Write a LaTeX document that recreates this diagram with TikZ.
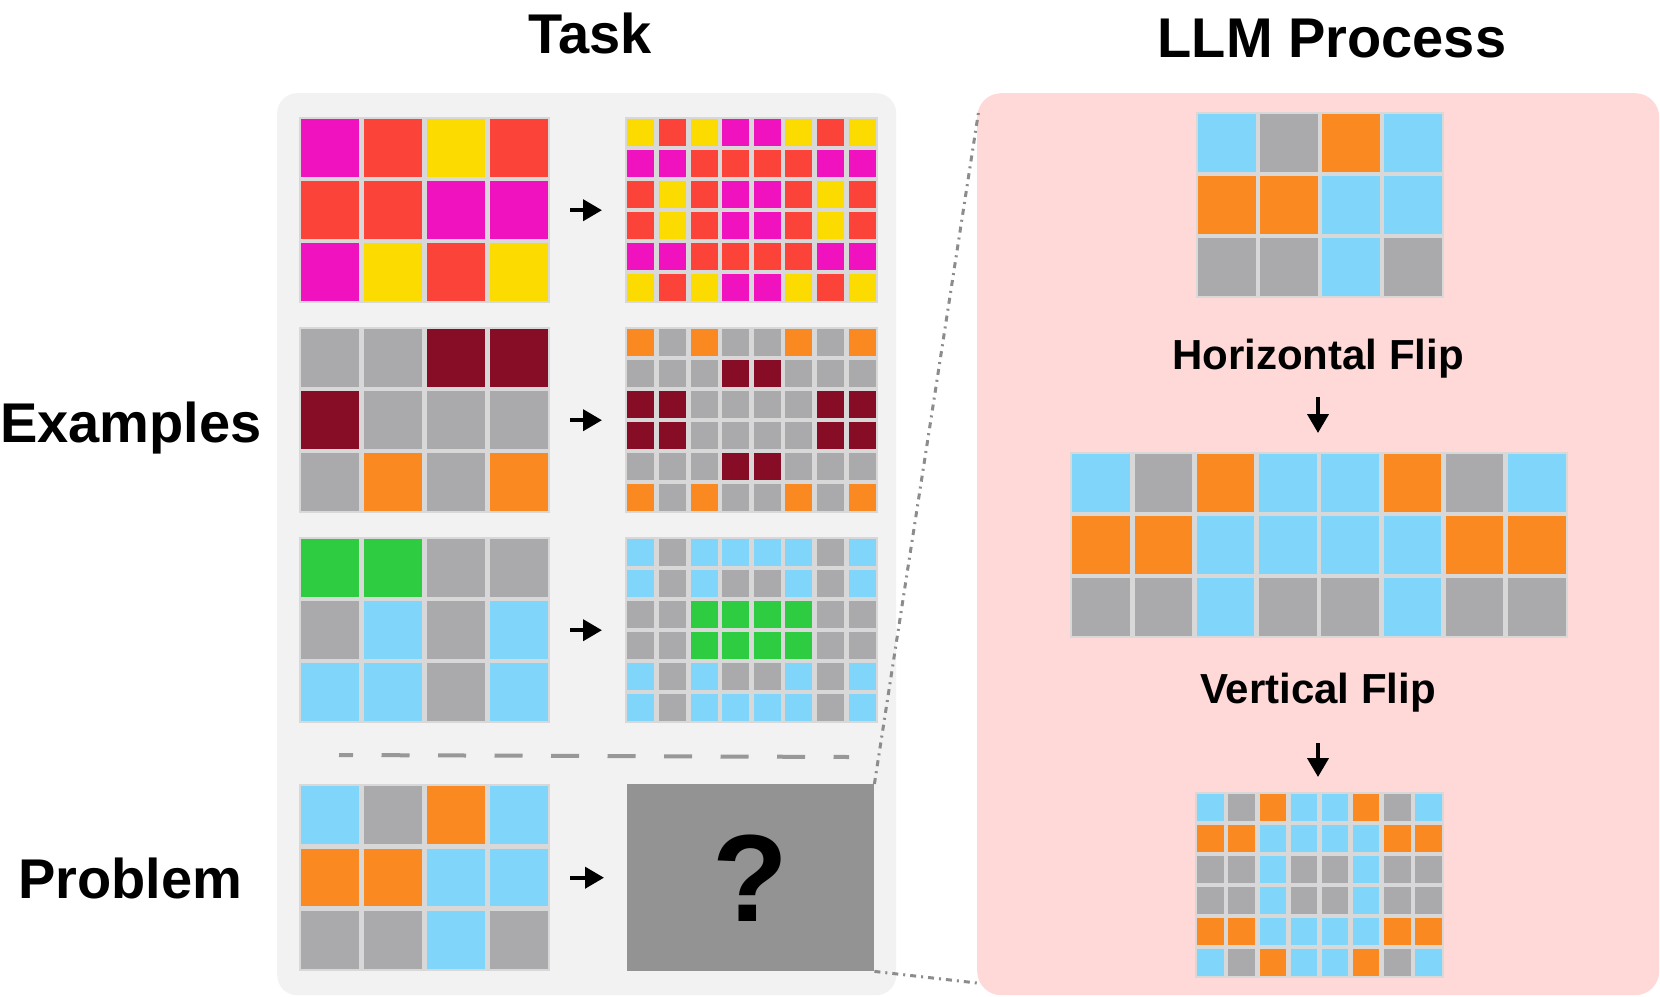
\documentclass[tikz,border=0pt]{standalone}
\usepackage{fontspec}
\setmainfont{Liberation Sans}
\usepackage{tikz}
\usetikzlibrary{arrows.meta}
\definecolor{cM}{HTML}{F012BE}
\definecolor{cR}{HTML}{FC4339}
\definecolor{cY}{HTML}{FCDC00}
\definecolor{cG}{HTML}{AAA9AB}
\definecolor{cW}{HTML}{870C25}
\definecolor{cO}{HTML}{FB8922}
\definecolor{cN}{HTML}{2ECC40}
\definecolor{cB}{HTML}{80D6FA}
\definecolor{gridline}{HTML}{D8D8D8}
\definecolor{taskbg}{HTML}{F2F2F2}
\definecolor{llmbg}{HTML}{FFD9D8}
\definecolor{qgray}{HTML}{939393}
\definecolor{linkgray}{HTML}{8C8C8C}
\tikzset{panel node/.style={inner sep=0pt, anchor=north west, rounded corners=20pt},
  grid node/.style={fill=gridline, inner sep=0pt, anchor=north west},
  title/.style={font=\bfseries\fontsize{56}{60}\selectfont, inner sep=0pt},
  op label/.style={font=\bfseries\fontsize{42}{46}\selectfont, inner sep=0pt},
  flow/.style={line width=4pt, -{Triangle[length=19pt,width=21pt]}},
  link/.style={draw=linkgray, line width=3pt, dash pattern=on 6pt off 5pt on 2pt off 5pt},}
\newcommand{\arcgrid}[8]{%
  \node[grid node, minimum width={(#4-#2)*1pt}, minimum height={(#5-#3)*1pt}] (#1) at (#2,#3) {};
  \pgfmathsetmacro{\cellw}{(#4-#2)/#6}%
  \pgfmathsetmacro{\cellh}{(#5-#3)/#7}%
  \foreach \rowcells [count=\rj from 0] in {#8} {
    \foreach \cellcol [count=\ci from 0] in \rowcells {
      \fill[fill=c\cellcol] ({#2+\ci*\cellw+2.3},{#3+\rj*\cellh+2.3}) rectangle ({#2+(\ci+1)*\cellw-2.3},{#3+(\rj+1)*\cellh-2.3});
    }
  }
}

\begin{document}
\begin{tikzpicture}[x=1pt,y=-1pt]
        \useasboundingbox (0,0) rectangle (1660,996);
        % Panels
        \node[panel node, fill=taskbg, minimum width=619pt, minimum height=902pt] (task) at (277,93) {};
        \node[panel node, fill=llmbg, minimum width=682pt, minimum height=902pt, rounded corners=24pt] (llm) at (977,93) {};
        % Labels
        \node[title, anchor=base] (tasktitle) at (590,53) {Task};
        \node[title, anchor=base] (llmtitle) at (1332,57) {LLM Process};
        \node[title, anchor=base west] (exlabel) at (0,442) {Examples};
        \node[title, anchor=base west] (problabel) at (18,898) {Problem};
        \node[op label, anchor=base] (hflip) at (1318,369) {Horizontal Flip};
        \node[op label, anchor=base] (vflip) at (1318,703) {Vertical Flip};
        % Examples
        \arcgrid{ex1in}{299}{117}{550}{303}{4}{3}{{M,R,Y,R},{R,R,M,M},{M,Y,R,Y}}
        \arcgrid{ex1out}{625}{117}{878}{303}{8}{6}{{Y,R,Y,M,M,Y,R,Y},{M,M,R,R,R,R,M,M},{R,Y,R,M,M,R,Y,R},{R,Y,R,M,M,R,Y,R},{M,M,R,R,R,R,M,M},{Y,R,Y,M,M,Y,R,Y}}
        \arcgrid{ex2in}{299}{327}{550}{513}{4}{3}{{G,G,W,W},{W,G,G,G},{G,O,G,O}}
        \arcgrid{ex2out}{625}{327}{878}{513}{8}{6}{{O,G,O,G,G,O,G,O},{G,G,G,W,W,G,G,G},{W,W,G,G,G,G,W,W},{W,W,G,G,G,G,W,W},{G,G,G,W,W,G,G,G},{O,G,O,G,G,O,G,O}}
        \arcgrid{ex3in}{299}{537}{550}{723}{4}{3}{{N,N,G,G},{G,B,G,B},{B,B,G,B}}
        \arcgrid{ex3out}{625}{537}{878}{723}{8}{6}{{B,G,B,B,B,B,G,B},{B,G,B,G,G,B,G,B},{G,G,N,N,N,N,G,G},{G,G,N,N,N,N,G,G},{B,G,B,G,G,B,G,B},{B,G,B,B,B,B,G,B}}
        \draw[draw=qgray!95, line width=4pt, dash pattern=on 28pt off 28.5pt, dash phase=14pt] (339,755) -- (849,757);
        % Problem
        \arcgrid{pin}{299}{784}{550}{971}{4}{3}{{B,G,O,B},{O,O,B,B},{G,G,B,G}}
        \node[fill=qgray, inner sep=0pt, anchor=north west, minimum width=247pt, minimum height=187pt,
              font=\bfseries\fontsize{124}{124}\selectfont] (q) at (627,784) {?};
        % LLM steps
        \arcgrid{start}{1196}{112}{1444}{298}{4}{3}{{B,G,O,B},{O,O,B,B},{G,G,B,G}}
        \arcgrid{hgrid}{1070}{452}{1568}{638}{8}{3}{{B,G,O,B,B,O,G,B},{O,O,B,B,B,B,O,O},{G,G,B,G,G,B,G,G}}
        \arcgrid{vgrid}{1195}{792}{1444}{978}{8}{6}{{B,G,O,B,B,O,G,B},{O,O,B,B,B,B,O,O},{G,G,B,G,G,B,G,G},{G,G,B,G,G,B,G,G},{O,O,B,B,B,B,O,O},{B,G,O,B,B,O,G,B}}
        \coordinate (lt) at (979,109);
        \coordinate (lb) at (977,983);
        % Paths
        \draw[flow, shorten <=20pt, shorten >=23pt] (ex1in.east) -- (ex1out.west);
        \draw[flow, shorten <=20pt, shorten >=23pt] (ex2in.east) -- (ex2out.west);
        \draw[flow, shorten <=20pt, shorten >=23pt] (ex3in.east) -- (ex3out.west);
        \draw[flow, shorten <=20pt, shorten >=23pt] (pin.east) -- (q.west);
        \draw[flow, shorten <=19pt, shorten >=19pt] (hflip.south) -- (hflip.south |- hgrid.north);
        \draw[flow, shorten <=31pt, shorten >=15pt] (vflip.south) -- (vflip.south |- vgrid.north);
        \draw[link] (q.north east) -- (lt);
        \draw[link] (q.south east) -- (lb);
\end{tikzpicture}
\end{document}
